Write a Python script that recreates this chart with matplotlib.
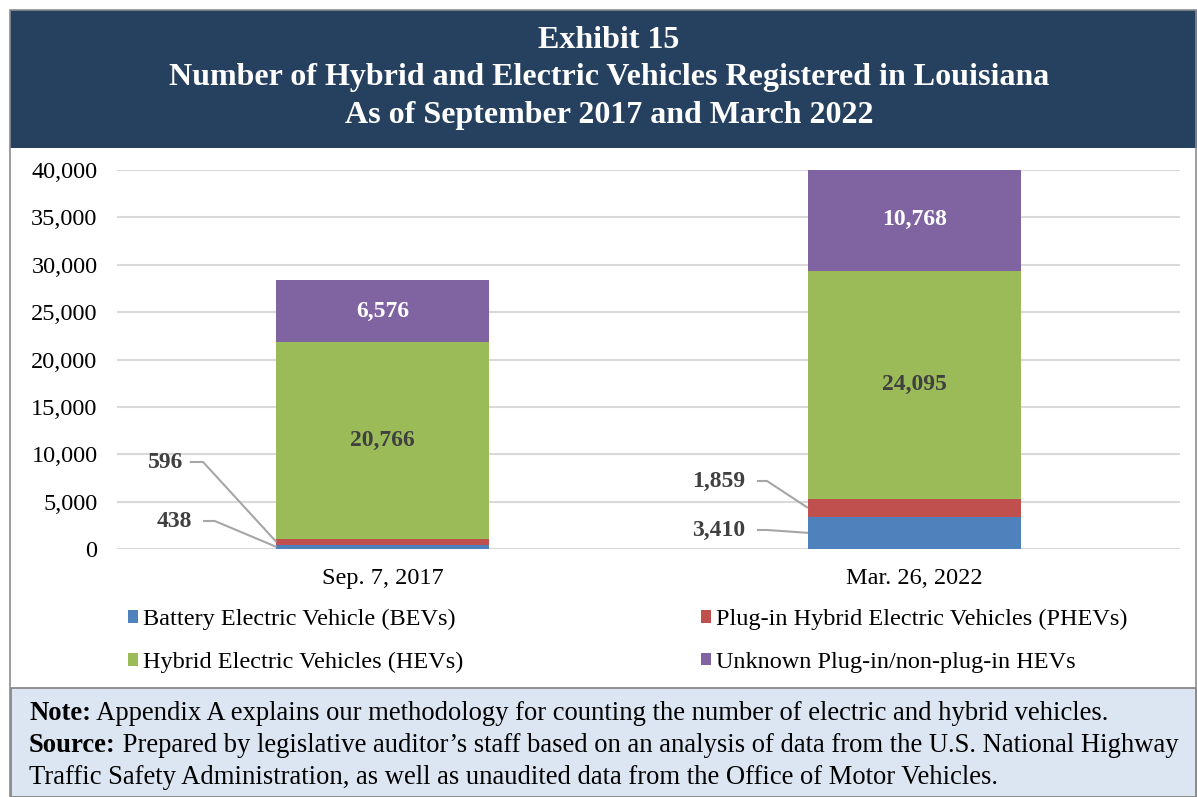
import matplotlib
matplotlib.use("Agg")
import matplotlib.pyplot as plt
from matplotlib.patches import Rectangle
from matplotlib.text import Annotation
import numpy as np

categories = ["Sep. 7, 2017", "Mar. 26, 2022"]
series_names = ["Battery Electric Vehicle (BEVs)", "Plug-in Hybrid Electric Vehicles (PHEVs)",
                "Hybrid Electric Vehicles (HEVs)", "Unknown Plug-in/non-plug-in HEVs"]
bev = [438, 3410]
phev = [596, 1859]
hev = [20766, 24095]
unknown = [6576, 10768]
yticks = [0, 5000, 10000, 15000, 20000, 25000, 30000, 35000, 40000]

colors = ["#4F81BD", "#C0504D", "#9BBB59", "#8064A2"]
label_colors = ["#404040", "#404040", "#404040", "white"]

plt.rcParams['font.family'] = ['Liberation Serif', 'DejaVu Serif']

W, H = 1197, 797
fig = plt.figure(figsize=(W / 100, H / 100), dpi=100)

def fx(px):
    return px / W

def fy(py):
    return 1 - py / H

# Title banner
fig.patches.append(Rectangle((fx(10), fy(148)), 1 - fx(10), fy(10) - fy(148), transform=fig.transFigure,
                             facecolor="#26405F", edgecolor="none", zorder=1))
# Note box
fig.patches.append(Rectangle((fx(11), 0), fx(1196) - fx(11), fy(688), transform=fig.transFigure,
                             facecolor="#DCE6F2", edgecolor="#7F7F7F", lw=1.2, zorder=1))
# Outer frame
fig.patches.append(Rectangle((fx(10), 0), fx(1196) - fx(10), fy(10), transform=fig.transFigure,
                             facecolor="none", edgecolor="#8C8C8C", lw=1.2, zorder=2))

title_lines = ["Exhibit 15", "Number of Hybrid and Electric Vehicles Registered in Louisiana",
               "As of September 2017 and March 2022"]
for i, t in enumerate(title_lines):
    fig.text(fx(609), fy(41 + 37 * i), t, ha="center", va="center", color="white",
             fontsize=23, fontweight="bold", zorder=3)

ax = fig.add_axes([fx(117), fy(549), fx(1180) - fx(117), fy(170) - fy(549)])
ax.set_zorder(3)
x = np.arange(len(categories))
width = 0.4
stack = [bev, phev, hev, unknown]
bottoms = np.zeros(len(categories))
bars = []
mids = []
for vals, c, name in zip(stack, colors, series_names):
    vals = np.array(vals, dtype=float)
    b = ax.bar(x, vals, width, bottom=bottoms, color=c, label=name, zorder=3)
    bars.append(b)
    mids.append(bottoms + vals / 2)
    bottoms = bottoms + vals

ax.set_xlim(-0.5, 1.5)
ax.set_ylim(0, 40000)
ax.set_yticks(yticks)
ax.set_yticklabels([f"{v:,}" for v in yticks])
ax.set_xticks(x)
ax.set_xticklabels(categories)
ax.tick_params(axis="y", length=0, pad=14, labelsize=17.5)
ax.tick_params(axis="x", length=0, pad=14, labelsize=17.5)
ax.grid(axis="y", color="#D9D9D9", lw=1.5, zorder=0)
for s in ax.spines.values():
    s.set_visible(False)
ax.patch.set_alpha(0)

# Inside labels for HEV and Unknown
for si in (2, 3):
    for i in range(len(categories)):
        ax.text(x[i], mids[si][i], f"{stack[si][i]:,}", ha="center", va="center",
                fontsize=17, fontweight="bold", color=label_colors[si], zorder=4)

# Outside labels with leader lines for BEV and PHEV
leader = {
    (0, 1): (-0.376, 9182, -0.363, -0.338),
    (0, 0): (-0.359, 2955, -0.338, -0.316),
    (1, 1): (0.6816, 7177, 0.704, 0.723),
    (1, 0): (0.6816, 2005, 0.704, 0.723),
}
for (i, si), (lx, ly, e0, e1) in leader.items():
    ax.text(lx, ly, f"{stack[si][i]:,}", ha="right", va="center", fontsize=17,
            fontweight="bold", color="#404040", zorder=4)
    tx = x[i] - width / 2
    ty = mids[si][i]
    ax.plot([e0, e1, tx], [ly, ly, ty], color="#A6A6A6", lw=1.5, zorder=4, clip_on=False,
            solid_capstyle="butt")

order = [0, 2, 1, 3]
handles = [bars[k][0] for k in order]
labels = [series_names[k] for k in order]
leg = fig.legend(handles, labels, ncol=2, loc="center left",
                 bbox_to_anchor=(fx(106), fy(641)), frameon=False, fontsize=17.5,
                 handlelength=0.42, handleheight=0.42, handletextpad=0.2,
                 columnspacing=9.77, labelspacing=0.88)
leg.set_zorder(4)

# Note / Source text
note_lines = [
    ("Note:", " Appendix A explains our methodology for counting the number of electric and hybrid vehicles."),
    ("Source:", " Prepared by legislative auditor\u2019s staff based on an analysis of data from the U.S. National Highway"),
    ("", "Traffic Safety Administration, as well as unaudited data from the Office of Motor Vehicles."),
]
nfs = 19.2
for i, (b, n) in enumerate(note_lines):
    y = fy(714 + 31.5 * i)
    if b:
        bt = fig.text(fx(29), y, b, ha="left", va="center", fontsize=nfs,
                      fontweight="bold", color="black", zorder=5)
        ann = Annotation(n, xy=(1, 0), xycoords=bt, ha="left", va="bottom", fontsize=nfs,
                         color="black", annotation_clip=False, zorder=5)
        fig.add_artist(ann)
    else:
        fig.text(fx(29), y, n, ha="left", va="center", fontsize=nfs, color="black", zorder=5)

fig.savefig("out.png", dpi=100)
